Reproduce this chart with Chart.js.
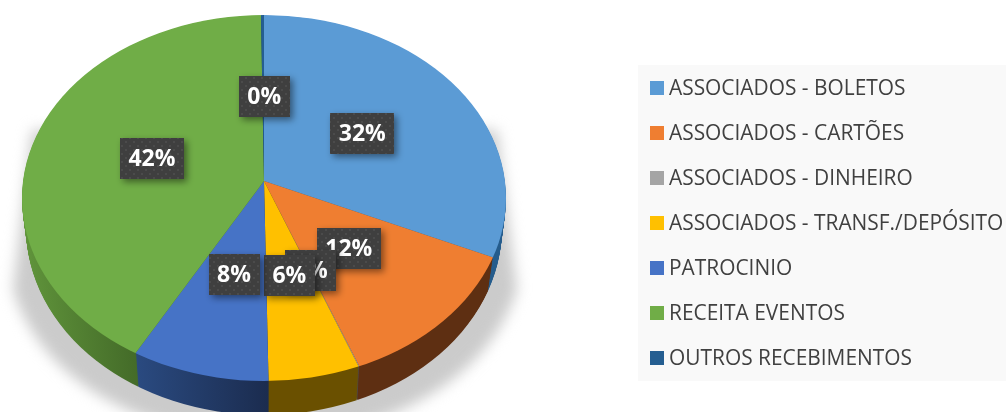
<!DOCTYPE html>
<html>
<head>
<meta charset="utf-8">
<style>
  html, body { margin: 0; padding: 0; background: #fff; }
  canvas { display: block; }
</style>
<script src="https://cdn.jsdelivr.net/npm/chart.js@4"></script>
</head>
<body>
<canvas id="chart" width="1006" height="412"></canvas>
<script>
"use strict";

const categories = [
  'ASSOCIADOS - BOLETOS',
  'ASSOCIADOS - CARTÕES',
  'ASSOCIADOS - DINHEIRO',
  'ASSOCIADOS - TRANSF./DEPÓSITO',
  'PATROCINIO',
  'RECEITA EVENTOS',
  'OUTROS RECEBIMENTOS',
];
// slice sizes as they look on the picture, and the labels it prints
const shares = [31.1, 12.5, 0.05, 6.05, 9.1, 41.0, 0.2];
const percentLabels = ['32%', '12%', '0%', '6%', '8%', '42%', '0%'];
const topColors = ['#5b9bd5', '#ef7e31', '#a5a5a5', '#ffc000', '#4673c6', '#70ad47', '#255e91'];
// side wall colours, left and right end of the gradient
const sideColors = [
  ['#255c8c', '#255c8c'],
  ['#5e2f12', '#5e2f12'],
  ['#4a4a4a', '#4a4a4a'],
  ['#6a5000', '#6a5000'],
  ['#2a4a80', '#1b2c4f'],
  ['#60943b', '#436a28'],
  ['#1a4060', '#1a4060'],
];

// the pie is a perspective disc: apex sits above the middle of the ellipse
const apex = { x: 264, y: 181 };
const spread = { x: 242, up: 166, down: 200 };
const rim = { x: 264, y: 198, rx: 242, ry: 183 };
const depth = 34;
const overdraw = 1.15;
const labelRadius = 0.485;

function drawHalves(chart, ctx, dy, narrow, paint) {
  const arc0 = chart.getDatasetMeta(0).data[0];
  const unit = spread.x / arc0.outerRadius;
  [[0, apex.y + dy, spread.up], [apex.y + dy, 500, spread.down]].forEach(([top, bottom, sy]) => {
    ctx.save();
    ctx.beginPath();
    ctx.rect(0, top, 638, bottom - top);
    ctx.clip();
    ctx.translate(apex.x, apex.y + dy);
    ctx.scale(unit * overdraw * narrow, unit * overdraw * sy / spread.x);
    ctx.translate(-arc0.x, -arc0.y);
    paint();
    ctx.restore();
  });
}

function clipRim(ctx, dy, grow, narrow) {
  ctx.beginPath();
  ctx.ellipse(rim.x, rim.y + dy, rim.rx * narrow, rim.ry + grow, 0, 0, Math.PI * 2);
  ctx.clip();
}

function dotPattern(ctx) {
  const c = document.createElement('canvas');
  c.width = 8;
  c.height = 8;
  const p = c.getContext('2d');
  p.fillStyle = '#3f3f3f';
  p.fillRect(0, 0, 8, 8);
  p.fillStyle = '#4b4b4b';
  p.fillRect(1, 1, 2, 2);
  p.fillRect(5, 5, 2, 2);
  return ctx.createPattern(c, 'repeat');
}

const perspectivePie = {
  id: 'perspectivePie',
  beforeDraw(chart) {
    const ctx = chart.ctx;
    // legend panel
    ctx.fillStyle = '#f9f9f9';
    ctx.fillRect(638, 65, 368, 316);
  },
  beforeDatasetsDraw(chart) {
    const ctx = chart.ctx;
    const arcs = chart.getDatasetMeta(0).data;

    // soft floor shadow
    ctx.save();
    ctx.filter = 'blur(7px)';
    ctx.fillStyle = '#cbcbcb';
    ctx.beginPath();
    ctx.moveTo(32, 130);
    ctx.lineTo(13, 290);
    ctx.quadraticCurveTo(55, 420, 264, 445);
    ctx.quadraticCurveTo(473, 420, 517, 290);
    ctx.lineTo(497, 130);
    ctx.closePath();
    ctx.fill();
    ctx.restore();

    // side wall, back to front
    for (let d = depth; d >= 1; d--) {
      const t = d / depth;
      const narrow = 1 - 0.017 * t;
      ctx.save();
      clipRim(ctx, 30 * t, 4 * t, narrow);
      arcs.forEach((arc, i) => {
        const unit = spread.x / arc.outerRadius * overdraw;
        // gradient runs across the slice in the chart's own units
        const g = ctx.createLinearGradient(
          arc.x + (i === 4 ? -128 : -242) / unit, 0,
          arc.x + (i === 4 ? 4 : -125) / unit, 0);
        g.addColorStop(0, sideColors[i][0]);
        g.addColorStop(1, sideColors[i][1]);
        drawHalves(chart, ctx, d, narrow, () => {
          ctx.fillStyle = g;
          ctx.beginPath();
          ctx.moveTo(arc.x, arc.y);
          ctx.arc(arc.x, arc.y, arc.outerRadius, arc.startAngle, arc.endAngle);
          ctx.closePath();
          ctx.fill();
        });
      });
      ctx.restore();
    }

    // top face, drawn by the arc elements themselves
    ctx.save();
    clipRim(ctx, 0, 0, 1);
    drawHalves(chart, ctx, 0, 1, () => {
      arcs.forEach(arc => arc.draw(ctx));
    });
    ctx.restore();
    return false;
  },
  afterDraw(chart) {
    const ctx = chart.ctx;
    const arcs = chart.getDatasetMeta(0).data;
    const fill = dotPattern(ctx);

    ctx.font = 'bold 23px "Open Sans"';
    ctx.textAlign = 'center';
    ctx.textBaseline = 'middle';
    arcs.forEach((arc, i) => {
      const mid = (arc.startAngle + arc.endAngle) / 2;
      const sin = Math.sin(mid);
      const x = apex.x + 1 + Math.cos(mid) * labelRadius * spread.x;
      const y = apex.y + sin * labelRadius * (sin < 0 ? spread.up * 1.05 : spread.down);
      const text = percentLabels[i];
      const w = Math.round(ctx.measureText(text).width) + 17;
      ctx.save();
      ctx.shadowColor = 'rgba(0,0,0,0.45)';
      ctx.shadowBlur = 7;
      ctx.shadowOffsetX = 3;
      ctx.shadowOffsetY = 3;
      ctx.fillStyle = fill;
      ctx.fillRect(Math.round(x - w / 2), Math.round(y - 20.5), w, 41);
      ctx.restore();
      ctx.fillStyle = '#fff';
      ctx.fillText(text, x, y + 1);
    });

    // legend
    ctx.font = '20.9px "Open Sans"';
    ctx.textAlign = 'left';
    ctx.textBaseline = 'alphabetic';
    categories.forEach((name, i) => {
      ctx.fillStyle = topColors[i];
      ctx.fillRect(650, 81 + i * 45, 14, 14);
      ctx.fillStyle = '#404040';
      ctx.fillText(name, 669, 95 + i * 45);
    });
  },
};

new Chart(document.getElementById('chart'), {
  type: 'pie',
  data: {
    labels: categories,
    datasets: [{
      data: shares,
      backgroundColor: topColors,
      borderWidth: 0,
    }],
  },
  options: {
    responsive: false,
    animation: false,
    layout: { padding: 0 },
    plugins: {
      legend: { display: false },
      tooltip: { enabled: false },
    },
  },
  plugins: [perspectivePie],
});
</script>
</body>
</html>
